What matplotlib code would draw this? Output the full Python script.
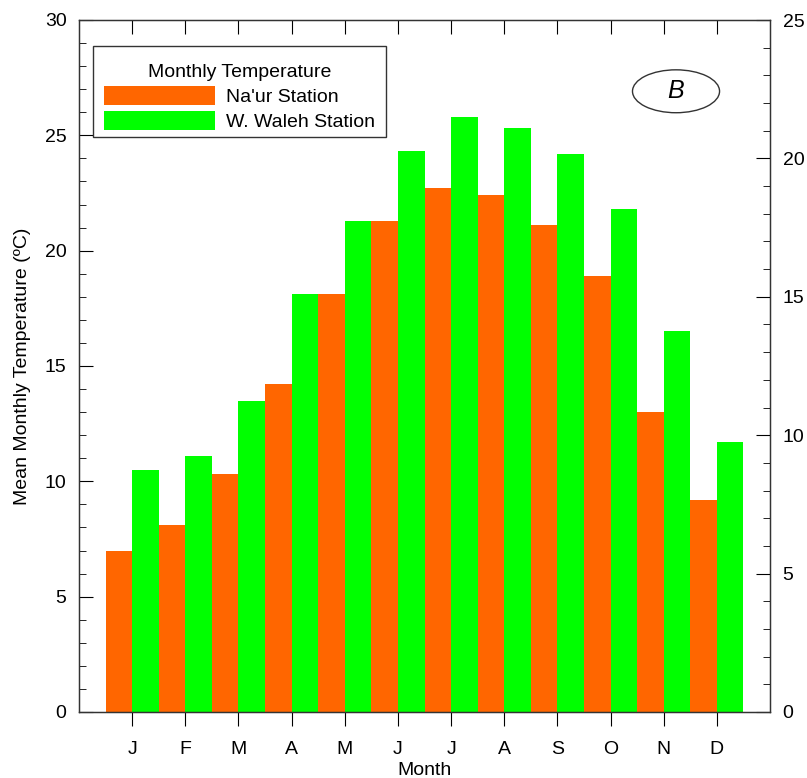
import numpy as np
import matplotlib
matplotlib.use("Agg")
from matplotlib import pyplot as plt
from matplotlib.patches import Ellipse, Rectangle
from matplotlib.ticker import MultipleLocator

plt.rcParams['font.family'] = ['Liberation Sans', 'DejaVu Sans']

months = ['J', 'F', 'M', 'A', 'M', 'J', 'J', 'A', 'S', 'O', 'N', 'D']
naur = [7.0, 8.1, 10.3, 14.2, 18.1, 21.3, 22.7, 22.4, 21.1, 18.9, 13.0, 9.2]
waleh = [10.5, 11.1, 13.5, 18.1, 21.3, 24.3, 25.8, 25.3, 24.2, 21.8, 16.5, 11.7]

fs = 14
fig = plt.figure(figsize=(8.07, 7.78), dpi=100)
ax = fig.add_axes([79 / 807, 66 / 778, 691 / 807, 692 / 778])

ind = np.arange(1, len(months) + 1)
w = 0.5
ax.bar(ind - w / 2, naur, w, color='#ff6600', label="Na'ur Station")
ax.bar(ind + w / 2, waleh, w, color='#00ff00', label='W. Waleh Station')

ax.set_xlim(0, 13)
ax.set_ylim(0, 30)
ax.set_xticks(ind)
ax.set_xticklabels(months)
ax.yaxis.set_major_locator(MultipleLocator(5))
ax.yaxis.set_minor_locator(MultipleLocator(1))
ax.tick_params(axis='y', which='major', direction='in', length=10, labelsize=fs, pad=9)
ax.tick_params(axis='y', which='minor', direction='in', length=5)
ax.tick_params(axis='x', which='major', direction='out', length=10, labelsize=fs, pad=11,
               top=True)
for sp in ax.spines.values():
    sp.set_color('#333333')
    sp.set_linewidth(1.0)

ax.set_xlabel('Month', fontsize=fs, labelpad=3)
ax.set_ylabel('Mean Monthly Temperature (\u00baC)', fontsize=fs, labelpad=10)

# top ticks point inward
for t in ax.xaxis.get_major_ticks():
    t.tick2line.set_marker(3)

ax2 = ax.twinx()
ax2.set_ylim(0, 25)
ax2.yaxis.set_major_locator(MultipleLocator(5))
ax2.yaxis.set_minor_locator(MultipleLocator(1))
ax2.tick_params(axis='y', which='major', direction='in', length=10, labelsize=fs, pad=9)
ax2.tick_params(axis='y', which='minor', direction='in', length=5)
for sp in ax2.spines.values():
    sp.set_color('#333333')

# legend frame drawn by hand, legend itself unframed
ax.add_patch(Rectangle((0.0203, 0.8309), 0.424, 0.1315, transform=ax.transAxes,
                       fill=True, facecolor='white', edgecolor='#333333', lw=1.0, zorder=4))
leg = ax.legend(title='Monthly Temperature', loc='upper left', bbox_to_anchor=(0.0362, 0.9368),
                fontsize=fs, title_fontsize=fs, handlelength=5.7, handleheight=1.15,
                frameon=False, borderpad=0, labelspacing=0.25, handletextpad=0.55,
                borderaxespad=0)
leg.set_zorder(5)

ax.add_patch(Ellipse((0.864, 0.897), 0.126, 0.062, transform=ax.transAxes,
                     fill=False, edgecolor='#333333', lw=1.0))
ax.text(0.864, 0.897, 'B', transform=ax.transAxes, ha='center', va='center',
        fontsize=18, style='italic')

fig.savefig('out.png', dpi=100)
